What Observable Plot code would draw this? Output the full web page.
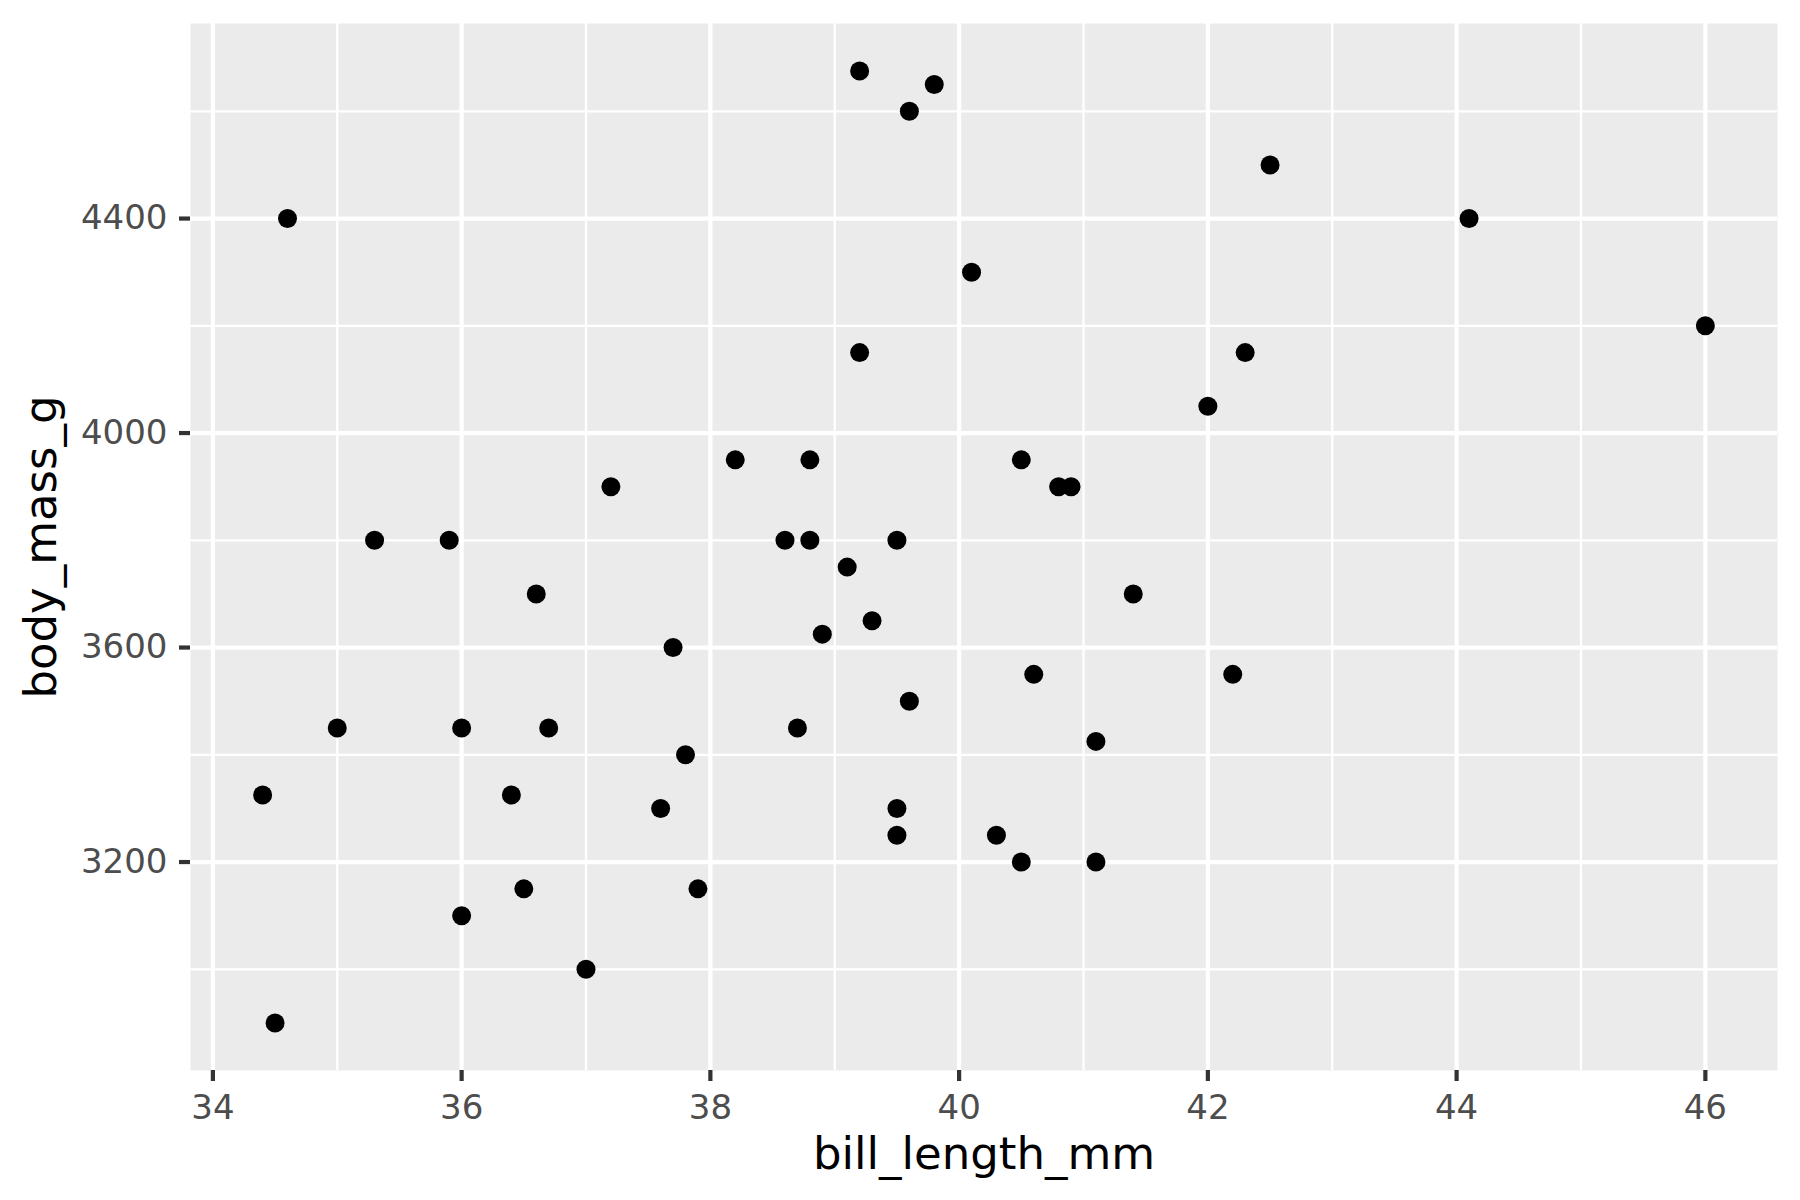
<!DOCTYPE html>
<html>
<head>
<meta charset="utf-8">
<script src="https://cdn.jsdelivr.net/npm/d3@7"></script>
<script src="https://cdn.jsdelivr.net/npm/@observablehq/plot@0.6"></script>
<style>
  html, body { margin: 0; padding: 0; background: #ffffff; }
  #chart svg { display: block; }
</style>
</head>
<body>
<div id="chart"></div>
<script>
// bill length (mm) and body mass (g) for each penguin
const billLength = [
  39.2, 39.8, 39.6, 42.5, 34.6, 44.1, 40.1, 46.0, 39.2, 42.3,
  42.0, 38.2, 38.8, 40.5, 37.2, 40.8, 40.9, 35.3, 35.9, 38.6,
  38.8, 39.5, 39.1, 36.6, 41.4, 39.3, 38.9, 37.7, 40.6, 42.2,
  39.6, 35.0, 36.0, 36.7, 38.7, 37.8, 41.1, 34.4, 36.4, 37.6,
  39.5, 39.5, 40.3, 40.5, 41.1, 36.5, 37.9, 36.0, 37.0, 34.5
];
const bodyMass = [
  4675, 4650, 4600, 4500, 4400, 4400, 4300, 4200, 4150, 4150,
  4050, 3950, 3950, 3950, 3900, 3900, 3900, 3800, 3800, 3800,
  3800, 3800, 3750, 3700, 3700, 3650, 3625, 3600, 3550, 3550,
  3500, 3450, 3450, 3450, 3450, 3400, 3425, 3325, 3325, 3300,
  3300, 3250, 3250, 3200, 3200, 3150, 3150, 3100, 3000, 2900
];
const xMajorTicks = [34, 36, 38, 40, 42, 44, 46];
const xMinorTicks = [35, 37, 39, 41, 43, 45];
const yMajorTicks = [3200, 3600, 4000, 4400];
const yMinorTicks = [3000, 3400, 3800, 4200, 4600];
const xTitle = "bill_length_mm";
const yTitle = "body_mass_g";

const points = billLength.map((b, i) => ({bill_length_mm: b, body_mass_g: bodyMass[i]}));

// ggplot-style 5% expansion of the data range
function expand(values) {
  const [lo, hi] = d3.extent(values);
  const pad = (hi - lo) * 0.05;
  return [lo - pad, hi + pad];
}

const chart = Plot.plot({
  width: 1800,
  height: 1200,
  marginLeft: 190,
  marginRight: 23,
  marginTop: 23,
  marginBottom: 130,
  style: {fontFamily: "DejaVu Sans", background: "#ffffff"},
  x: {domain: expand(billLength)},
  y: {domain: expand(bodyMass)},
  marks: [
    Plot.frame({fill: "#EBEBEB", stroke: null}),
    Plot.ruleX(xMinorTicks, {stroke: "#ffffff", strokeWidth: 2.3}),
    Plot.ruleY(yMinorTicks, {stroke: "#ffffff", strokeWidth: 2.3}),
    Plot.ruleX(xMajorTicks, {stroke: "#ffffff", strokeWidth: 4.2}),
    Plot.ruleY(yMajorTicks, {stroke: "#ffffff", strokeWidth: 4.2}),
    Plot.dot(points, {x: "bill_length_mm", y: "body_mass_g", r: 9.5, fill: "#000000", stroke: null}),
    Plot.axisX({
      ticks: xMajorTicks, tickFormat: d => String(d), tickSize: 11, tickPadding: 13, fontSize: 34,
      stroke: "#333333", strokeWidth: 4.2, fill: "#4D4D4D", label: null
    }),
    Plot.axisY({
      ticks: yMajorTicks, tickFormat: d => String(d), tickSize: 11, tickPadding: 12, fontSize: 34,
      stroke: "#333333", strokeWidth: 4.2, fill: "#4D4D4D", label: null
    }),
    Plot.text([xTitle], {
      text: d => d, frameAnchor: "bottom", textAnchor: "middle", lineAnchor: "top", dy: 67,
      fontSize: 45, fill: "#000000"
    }),
    Plot.text([yTitle], {
      text: d => d, frameAnchor: "left", textAnchor: "middle", rotate: -90, lineAnchor: "middle", dx: -149,
      fontSize: 45, fill: "#000000"
    })
  ]
});

document.getElementById("chart").appendChild(chart);
</script>
</body>
</html>
